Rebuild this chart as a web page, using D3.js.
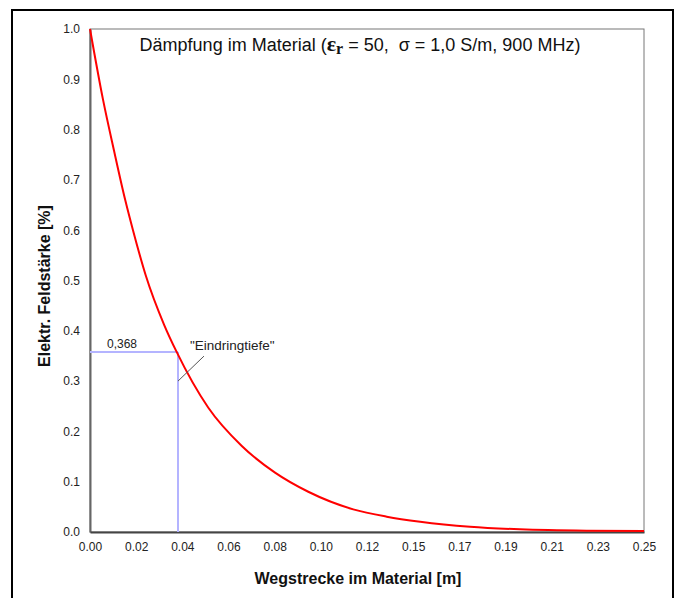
<!DOCTYPE html>
<html lang="de">
<head>
  <meta charset="UTF-8">
  <title>Dämpfung im Material</title>
  <script src="https://d3js.org/d3.v7.min.js"></script>
  <style>
    body {
      margin: 0;
      background-color: #fff;
      font-family: Arial, "Liberation Sans", sans-serif;
    }
    text { white-space: pre; }
  </style>
</head>
<body>
  <script>
    const width = 680;
    const height = 598;

    // Werte
    const depth = [0, 0.0059, 0.0108, 0.0159, 0.0194, 0.0251, 0.0335, 0.0391, 0.0534, 0.0685, 0.0835, 0.0985, 0.1188, 0.1339, 0.149, 0.1715, 0.194, 0.224, 0.25];
    const field = [1.0, 0.859, 0.759, 0.66, 0.60, 0.511, 0.4115, 0.358, 0.247, 0.171, 0.118, 0.08, 0.045, 0.0305, 0.0205, 0.0105, 0.0053, 0.0026, 0.002];
    const xTickLabels = ['0.00', '0.02', '0.04', '0.06', '0.08', '0.10', '0.12', '0.15', '0.17', '0.19', '0.21', '0.23', '0.25'];
    const yTicks = [0, 0.1, 0.2, 0.3, 0.4, 0.5, 0.6, 0.7, 0.8, 0.9, 1.0];
    const markDepth = 0.0397;   // "Eindringtiefe"
    const markValue = 0.358;
    const markLabel = '0,368';

    const margin = { top: 29, right: 36, bottom: 66, left: 90 };

    const svg = d3.select("body")
      .append("svg")
      .attr("width", width)
      .attr("height", height);

    // outer frame
    svg.append("rect")
      .attr("x", 12).attr("y", 10)
      .attr("width", 661).attr("height", 600)
      .attr("fill", "none")
      .attr("stroke", "#000")
      .attr("stroke-width", 2);

    const x = d3.scaleLinear()
      .domain([0, 0.25])
      .range([margin.left, width - margin.right]);

    const y = d3.scaleLinear()
      .domain([0, 1])
      .range([height - margin.bottom, margin.top]);

    // plot border (top/right)
    svg.append("rect")
      .attr("x", x(0)).attr("y", y(1))
      .attr("width", x(0.25) - x(0)).attr("height", y(0) - y(1))
      .attr("fill", "none")
      .attr("stroke", "#777")
      .attr("stroke-width", 1);

    // y axis
    const yAxis = svg.append("g")
      .attr("transform", `translate(${x(0)},0)`)
      .call(d3.axisLeft(y).tickValues(yTicks).tickFormat(d3.format(".1f")).tickSize(0).tickPadding(10));
    yAxis.select(".domain").attr("stroke", "#666").attr("stroke-width", 2);
    yAxis.selectAll("text")
      .attr("font-family", "Arial, 'Liberation Sans', sans-serif")
      .attr("font-size", 12)
      .attr("fill", "#222");

    // x axis: 12 equal steps, labels as printed
    const xTickVals = xTickLabels.map((d, i) => i * 0.25 / (xTickLabels.length - 1));
    const xAxis = svg.append("g")
      .attr("transform", `translate(0,${y(0)})`)
      .call(d3.axisBottom(x).tickValues(xTickVals).tickFormat((d, i) => xTickLabels[i]).tickSize(0).tickPadding(10));
    xAxis.select(".domain").attr("stroke", "#444").attr("stroke-width", 2);
    xAxis.selectAll("text")
      .attr("font-family", "Arial, 'Liberation Sans', sans-serif")
      .attr("font-size", 12)
      .attr("fill", "#222");

    // penetration depth marker lines
    svg.append("line")
      .attr("x1", x(0)).attr("x2", x(markDepth))
      .attr("y1", y(markValue)).attr("y2", y(markValue))
      .attr("stroke", "#b4b4ff").attr("stroke-width", 2);
    svg.append("line")
      .attr("x1", x(markDepth)).attr("x2", x(markDepth))
      .attr("y1", y(markValue)).attr("y2", y(0))
      .attr("stroke", "#b4b4ff").attr("stroke-width", 2);

    svg.append("text")
      .attr("x", x(0) + 17).attr("y", y(markValue) - 4)
      .attr("font-size", 12).attr("fill", "#222")
      .text(markLabel);

    // the curve
    const line = d3.line()
      .x((d, i) => x(depth[i]))
      .y(d => y(d))
      .curve(d3.curveMonotoneX);

    svg.append("path")
      .datum(field)
      .attr("d", line)
      .attr("fill", "none")
      .attr("stroke", "#ff0000")
      .attr("stroke-width", 2);

    // annotation leader
    svg.append("line")
      .attr("x1", x(markDepth)).attr("y1", y(0.3))
      .attr("x2", x(markDepth) + 26).attr("y2", y(0.3) - 25)
      .attr("stroke", "#555").attr("stroke-width", 1);
    svg.append("text")
      .attr("x", 190).attr("y", 350)
      .attr("font-size", 13.5).attr("fill", "#222")
      .text('"Eindringtiefe"');

    // title
    const title = svg.append("text")
      .attr("x", 360).attr("y", 51)
      .attr("text-anchor", "middle")
      .attr("font-size", 18)
      .attr("fill", "#111");
    title.append("tspan").text("Dämpfung im Material (");
    title.append("tspan")
      .attr("font-family", "'Liberation Serif', 'DejaVu Serif', serif")
      .attr("font-weight", "bold").attr("font-size", 22)
      .text("ε");
    title.append("tspan")
      .attr("font-family", "'Liberation Serif', 'DejaVu Serif', serif")
      .attr("font-weight", "bold").attr("font-size", 16)
      .attr("dy", 3)
      .text("r");
    title.append("tspan").attr("dy", -3).text(" = 50,  σ = 1,0 S/m, 900 MHz)");

    // axis titles
    svg.append("text")
      .attr("x", 358).attr("y", 584)
      .attr("text-anchor", "middle")
      .attr("font-size", 16).attr("font-weight", "bold").attr("fill", "#111")
      .text("Wegstrecke im Material [m]");

    svg.append("text")
      .attr("transform", "translate(50,286) rotate(-90)")
      .attr("text-anchor", "middle")
      .attr("font-size", 16).attr("font-weight", "bold").attr("fill", "#111")
      .text("Elektr. Feldstärke [%]");
  </script>
</body>
</html>
